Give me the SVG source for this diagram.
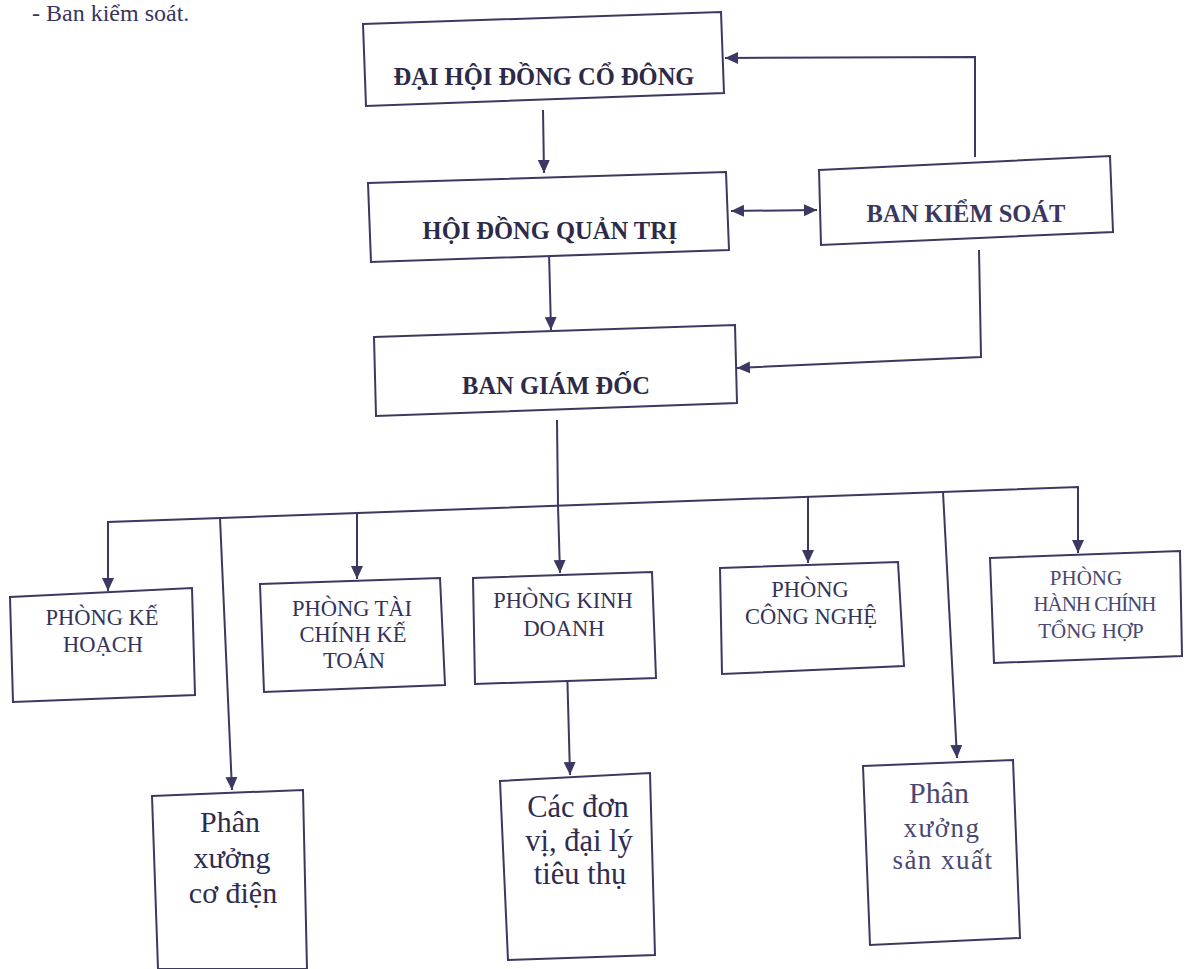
<svg xmlns="http://www.w3.org/2000/svg" width="1192" height="969" viewBox="0 0 1192 969">
<style>
.box{fill:#ffffff;stroke:#3b3862;stroke-width:2}
.ln{fill:none;stroke:#3b3862;stroke-width:2}
</style>
<defs>
<marker id="ah" markerUnits="userSpaceOnUse" markerWidth="14" markerHeight="14" viewBox="0 0 14 14" refX="13" refY="7" orient="auto-start-reverse">
<path d="M0,1 L13,7 L0,13 Z" fill="#3b3862"/>
</marker>
</defs>
<rect width="1192" height="969" fill="#ffffff"/>
<text x="32" y="21" style="font-family:'Liberation Serif',serif;font-size:24px;fill:#38355c">- Ban kiểm soát.</text>

<g id="connectors">
<path class="ln" d="M975,157 L975,57 L725,58" marker-end="url(#ah)"/>
<path class="ln" d="M543,110 L544,173" marker-end="url(#ah)"/>
<path class="ln" d="M731,211 L817,210" marker-start="url(#ah)" marker-end="url(#ah)"/>
<path class="ln" d="M549,252 L551,330" marker-end="url(#ah)"/>
<path class="ln" d="M979,250 L981,357 L737,368" marker-end="url(#ah)"/>
<path class="ln" d="M557,420 L558,506"/>
<path class="ln" d="M108,591 L108,522 L1078,487 L1078,553" marker-start="url(#ah)" marker-end="url(#ah)"/>
<path class="ln" d="M220,518 L232,790" marker-end="url(#ah)"/>
<path class="ln" d="M357,513 L357,579" marker-end="url(#ah)"/>
<path class="ln" d="M558,506 L560,573" marker-end="url(#ah)"/>
<path class="ln" d="M808,497 L808,563" marker-end="url(#ah)"/>
<path class="ln" d="M943,492 L957,758" marker-end="url(#ah)"/>
<path class="ln" d="M567,665 L570,775" marker-end="url(#ah)"/>
</g>

<g id="n-daihoidong">
<polygon class="box" points="363,24 721,12 724,93 366,106"/>
<text x="544" y="85" style="font-family:'Liberation Serif',serif;font-weight:bold;font-size:24.5px;fill:#2d2a48;text-anchor:middle">ĐẠI HỘI ĐỒNG CỔ ĐÔNG</text>
</g>
<g id="n-hoidongquantri">
<polygon class="box" points="368,183 726,172 729,250 371,262"/>
<text x="550" y="239" style="font-family:'Liberation Serif',serif;font-weight:bold;font-size:24.5px;fill:#2d2a48;text-anchor:middle">HỘI ĐỒNG QUẢN TRỊ</text>
</g>
<g id="n-bankiemsoat">
<polygon class="box" points="819,170 1110,156 1113,232 821,245"/>
<text x="966" y="222" style="font-family:'Liberation Serif',serif;font-weight:bold;font-size:24.5px;fill:#3a3860;text-anchor:middle">BAN KIỂM SOÁT</text>
</g>
<g id="n-bangiamdoc">
<polygon class="box" points="374,337 735,325 737,403 376,416"/>
<text x="556" y="394" style="font-family:'Liberation Serif',serif;font-weight:bold;font-size:24.5px;fill:#2d2a48;text-anchor:middle">BAN GIÁM ĐỐC</text>
</g>

<g id="n-kehoach">
<polygon class="box" points="10,597 192,588 195,695 13,702"/>
<text x="102" y="625" style="font-family:'Liberation Serif',serif;font-size:22.5px;fill:#35325a;text-anchor:middle">PHÒNG KẾ</text>
<text x="103" y="652" style="font-family:'Liberation Serif',serif;font-size:22.5px;fill:#35325a;text-anchor:middle">HOẠCH</text>
</g>
<g id="n-taichinh">
<polygon class="box" points="260,584 440,578 445,685 264,692"/>
<text x="352" y="616" style="font-family:'Liberation Serif',serif;font-size:22.5px;fill:#35325a;text-anchor:middle">PHÒNG TÀI</text>
<text x="353" y="642" style="font-family:'Liberation Serif',serif;font-size:22.5px;fill:#35325a;text-anchor:middle">CHÍNH KẾ</text>
<text x="354" y="668" style="font-family:'Liberation Serif',serif;font-size:22.5px;fill:#35325a;text-anchor:middle">TOÁN</text>
</g>
<g id="n-kinhdoanh">
<polygon class="box" points="473,578 652,572 656,678 475,684"/>
<text x="563" y="608" style="font-family:'Liberation Serif',serif;font-size:22.5px;fill:#35325a;text-anchor:middle">PHÒNG KINH</text>
<text x="564" y="636" style="font-family:'Liberation Serif',serif;font-size:22.5px;fill:#35325a;text-anchor:middle">DOANH</text>
</g>
<g id="n-congnghe">
<polygon class="box" points="720,568 898,562 904,666 722,674"/>
<text x="810" y="597" style="font-family:'Liberation Serif',serif;font-size:22.5px;fill:#35325a;text-anchor:middle">PHÒNG</text>
<text x="811" y="624" style="font-family:'Liberation Serif',serif;font-size:22.5px;fill:#35325a;text-anchor:middle">CÔNG NGHỆ</text>
</g>
<g id="n-hanhchinh">
<polygon class="box" points="990,558 1180,551 1182,656 994,663"/>
<text x="1086" y="585" style="font-family:'Liberation Serif',serif;font-size:21px;fill:#4a4872;text-anchor:middle">PHÒNG</text>
<text x="1095" y="611" textLength="123" style="font-family:'Liberation Serif',serif;font-size:21px;fill:#4a4872;text-anchor:middle">HÀNH CHÍNH</text>
<text x="1091" y="638" style="font-family:'Liberation Serif',serif;font-size:21px;fill:#4a4872;text-anchor:middle">TỔNG HỢP</text>
</g>

<g id="n-coddien">
<polygon class="box" points="152,796 303,790 307,969 158,969"/>
<text x="230" y="832" style="font-family:'Liberation Serif',serif;font-size:30px;fill:#2f2c50;text-anchor:middle">Phân</text>
<text x="232" y="868" style="font-family:'Liberation Serif',serif;font-size:30px;fill:#2f2c50;text-anchor:middle">xưởng</text>
<text x="233" y="903" style="font-family:'Liberation Serif',serif;font-size:30px;fill:#2f2c50;text-anchor:middle">cơ điện</text>
</g>
<g id="n-daily">
<polygon class="box" points="500,781 650,773 655,955 508,960"/>
<text x="578" y="817" style="font-family:'Liberation Serif',serif;font-size:30.5px;fill:#2f2c50;text-anchor:middle">Các đơn</text>
<text x="579" y="851" style="font-family:'Liberation Serif',serif;font-size:30.5px;fill:#2f2c50;text-anchor:middle">vị, đại lý</text>
<text x="580" y="884" style="font-family:'Liberation Serif',serif;font-size:30.5px;fill:#2f2c50;text-anchor:middle">tiêu thụ</text>
</g>
<g id="n-sanxuat">
<polygon class="box" points="863,766 1013,760 1020,938 870,945"/>
<text x="939" y="803" style="font-family:'Liberation Serif',serif;font-size:30px;fill:#4a4872;text-anchor:middle">Phân</text>
<text x="942" y="837" style="font-family:'Liberation Serif',serif;font-size:27px;letter-spacing:1.5px;fill:#4a4872;text-anchor:middle">xưởng</text>
<text x="943" y="869" style="font-family:'Liberation Serif',serif;font-size:27px;letter-spacing:1.5px;fill:#4a4872;text-anchor:middle">sản xuất</text>
</g>
</svg>
